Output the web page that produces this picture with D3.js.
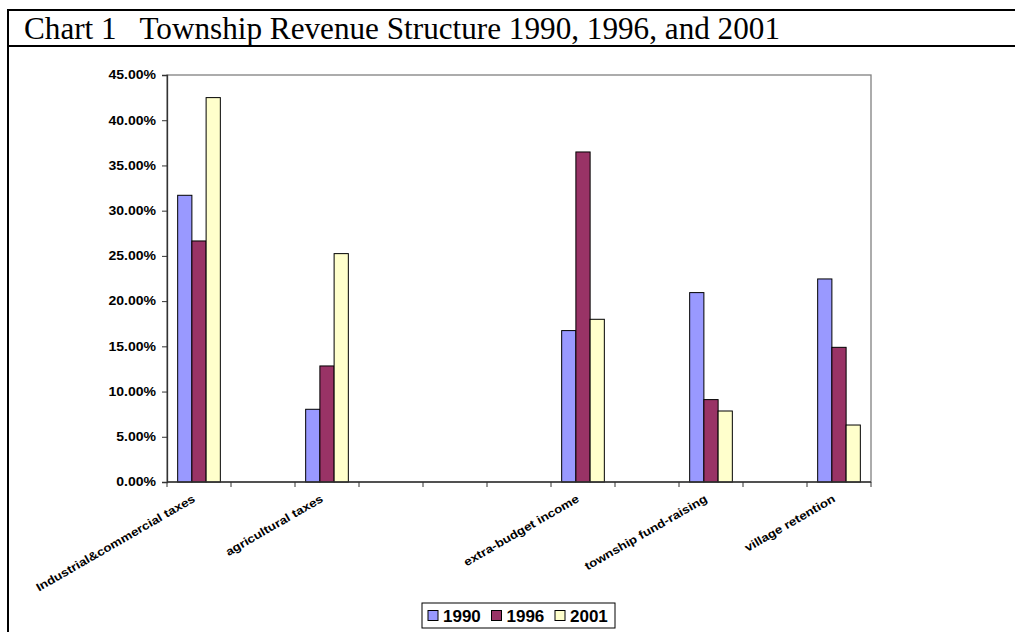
<!DOCTYPE html>
<html>
<head>
<meta charset="utf-8">
<script src="https://cdn.jsdelivr.net/npm/d3@7"></script>
<style>
  body { margin: 0; background: #fff; }
  svg { display: block; }
</style>
</head>
<body>
<svg width="1015" height="632"></svg>
<script>
// categories (blank slots are empty categories in the original sheet)
const categories = [
  'Industrial&commercial taxes', '', 'agricultural taxes', '', '', '',
  'extra-budget income', '', 'township fund-raising', '', 'village retention'
];
const years = ['1990', '1996', '2001'];
const v1990 = [31.7, null, 8.04, null, null, null, 16.74, null, 20.94, null, 22.45];
const v1996 = [26.65, null, 12.83, null, null, null, 36.49, null, 9.11, null, 14.89];
const v2001 = [42.5, null, 25.25, null, null, null, 17.99, null, 7.85, null, 6.3];
const yTicks = [0, 5, 10, 15, 20, 25, 30, 35, 40, 45];
const colors = ['#9999ff', '#993366', '#ffffcc'];

const series = [v1990, v1996, v2001];
const svg = d3.select('svg');
const sans = 'Arial, "Liberation Sans", sans-serif';

// frame and title
svg.append('line').attr('x1', 8).attr('x2', 1015).attr('y1', 10).attr('y2', 10)
  .attr('stroke', '#000').attr('stroke-width', 2);
svg.append('line').attr('x1', 8).attr('x2', 1015).attr('y1', 46).attr('y2', 46)
  .attr('stroke', '#000').attr('stroke-width', 2);
svg.append('line').attr('x1', 8).attr('x2', 8).attr('y1', 9).attr('y2', 632)
  .attr('stroke', '#000').attr('stroke-width', 2);
svg.append('text')
  .attr('x', 24).attr('y', 39)
  .attr('font-family', '"Liberation Serif", "Times New Roman", serif')
  .attr('font-size', 31)
  .attr('textLength', 756)
  .attr('lengthAdjust', 'spacingAndGlyphs')
  .style('white-space', 'pre')
  .text('Chart 1   Township Revenue Structure 1990, 1996, and 2001');

const plotL = 167, plotR = 871, plotT = 75, plotB = 482;

const x = d3.scaleBand().domain(d3.range(categories.length)).range([plotL, plotR]);
const x1 = d3.scaleBand().domain(d3.range(years.length))
  .range([0, x.bandwidth()]).paddingInner(0).paddingOuter(0.75);
const y = d3.scaleLinear().domain([0, 45]).range([plotB, plotT]);

// plot area border
svg.append('rect')
  .attr('x', plotL).attr('y', plotT)
  .attr('width', plotR - plotL).attr('height', plotB - plotT)
  .attr('fill', 'none').attr('stroke', '#808080').attr('stroke-width', 1.3);

// bars
const groups = svg.append('g').selectAll('g')
  .data(categories)
  .join('g')
  .attr('transform', (d, i) => `translate(${x(i)},0)`);

groups.selectAll('rect')
  .data((d, i) => series.map((s, k) => ({ k, v: s[i] })).filter(e => e.v != null))
  .join('rect')
  .attr('x', d => x1(d.k))
  .attr('width', x1.bandwidth())
  .attr('y', d => y(d.v))
  .attr('height', d => y(0) - y(d.v))
  .attr('fill', d => colors[d.k])
  .attr('stroke', '#000')
  .attr('stroke-width', 1);

// y axis
const yAxis = svg.append('g')
  .attr('transform', `translate(${plotL},0)`)
  .call(d3.axisLeft(y).tickValues(yTicks).tickSize(5).tickPadding(6)
    .tickFormat(d => d.toFixed(2) + '%'));
yAxis.select('.domain').attr('stroke', '#333').attr('stroke-width', 1.3);
yAxis.selectAll('.tick line').attr('stroke', '#333');
yAxis.selectAll('.tick text')
  .attr('x', null)
  .attr('transform', 'translate(-11,0) scale(1.17,1)')
  .attr('font-family', sans)
  .attr('font-size', 12).attr('font-weight', 'bold').attr('fill', '#000');

// x axis: ticks on band edges
const xEdges = d3.range(categories.length + 1).map(i => plotL + i * x.step());
const xAxis = svg.append('g');
xAxis.append('line')
  .attr('x1', plotL).attr('x2', plotR).attr('y1', plotB).attr('y2', plotB)
  .attr('stroke', '#333').attr('stroke-width', 1.3);
xAxis.selectAll('.xt')
  .data(xEdges)
  .join('line')
  .attr('class', 'xt')
  .attr('x1', d => d).attr('x2', d => d)
  .attr('y1', plotB).attr('y2', plotB + 5)
  .attr('stroke', '#333');
xAxis.selectAll('text')
  .data(categories)
  .join('text')
  .attr('transform', (d, i) =>
    `translate(${x(i) + x.bandwidth() / 2 - 3},${plotB + 19}) rotate(-30) scale(1.16,1)`)
  .attr('text-anchor', 'end')
  .attr('font-family', sans)
  .attr('font-size', 11.5).attr('font-weight', 'bold')
  .text(d => d);

// legend
const lg = svg.append('g').attr('transform', 'translate(422,603)');
lg.append('rect').attr('width', 193).attr('height', 25)
  .attr('fill', '#fff').attr('stroke', '#000').attr('stroke-width', 1);
const items = lg.selectAll('g.item')
  .data(years)
  .join('g')
  .attr('class', 'item')
  .attr('transform', (d, i) => `translate(${6 + i * 63.5},0)`);
items.append('rect')
  .attr('x', 0).attr('y', 7.5).attr('width', 10).attr('height', 10)
  .attr('fill', (d, i) => colors[i]).attr('stroke', '#000');
items.append('text')
  .attr('x', 15).attr('y', 19)
  .attr('font-family', sans)
  .attr('font-size', 17).attr('font-weight', 'bold')
  .text(d => d);
</script>
</body>
</html>
